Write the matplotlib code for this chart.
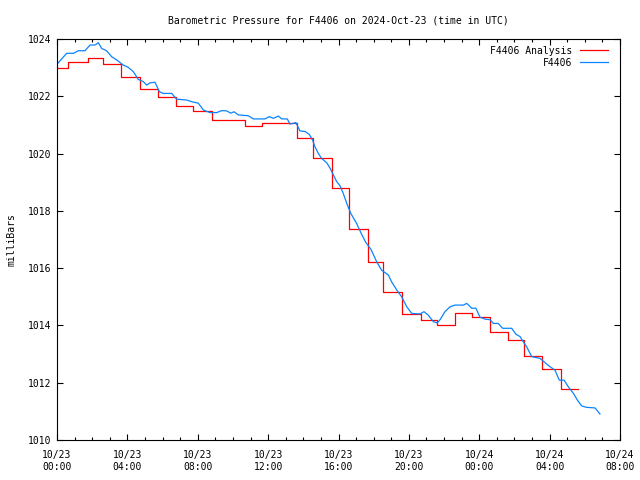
import matplotlib
matplotlib.use("Agg")
import matplotlib.pyplot as plt
from matplotlib.ticker import MultipleLocator

# Hours since 2024-10-23 00:00 UTC
analysis_t = [0, 0.64, 1.78, 2.63, 3.64, 4.72, 5.76, 6.76, 7.75, 8.79, 10.69, 11.63,
              13.62, 14.57, 15.61, 16.6, 17.65, 18.55, 19.59, 20.69, 21.58, 22.62,
              23.59, 24.63, 25.65, 26.54, 27.55, 28.63, 29.6]
analysis_p = [1023.0, 1023.2, 1023.33, 1023.12, 1022.66, 1022.24, 1021.96, 1021.65,
              1021.49, 1021.17, 1020.95, 1021.06, 1020.53, 1019.83, 1018.79, 1017.37,
              1016.22, 1015.16, 1014.39, 1014.18, 1014.0, 1014.42, 1014.28, 1013.76,
              1013.48, 1012.92, 1012.47, 1011.77, 1011.77]

obs_t = [0, 0.55, 0.93, 1.21, 1.59, 1.88, 2.16, 2.35, 2.54, 2.82, 3.11, 3.39, 3.77,
         4.05, 4.34, 4.62, 4.91, 5.1, 5.29, 5.57, 5.82, 6.04, 6.52, 6.8, 7.37, 7.66,
         8.03, 8.32, 8.7, 9.08, 9.36, 9.65, 9.87, 10.06, 10.31, 10.87, 11.16, 11.82,
         12.07, 12.3, 12.58, 12.77, 13.09, 13.24, 13.58, 13.81, 14.1, 14.34, 14.53,
         14.66, 14.85, 15.04, 15.33, 15.52, 15.71, 15.9, 16.09, 16.27, 16.47, 16.7,
         17.03, 17.3, 17.55, 17.85, 18.17, 18.45, 18.83, 19.02, 19.31, 19.59, 19.88,
         20.16, 20.63, 20.86, 21.1, 21.39, 21.62, 21.77, 22.05, 22.34, 22.62, 23.1,
         23.29, 23.57, 23.81, 24.04, 24.33, 24.61, 24.8, 25.08, 25.33, 25.84, 26.09,
         26.32, 26.5, 26.69, 26.98, 27.45, 27.74, 28.02, 28.3, 28.55, 28.82, 29.06,
         29.35, 29.57, 29.82, 30.1, 30.58, 30.86]
obs_p = [1023.12, 1023.5, 1023.5, 1023.59, 1023.59, 1023.79, 1023.79, 1023.87, 1023.67,
         1023.59, 1023.38, 1023.27, 1023.09, 1023.01, 1022.86, 1022.59, 1022.51,
         1022.39, 1022.47, 1022.49, 1022.16, 1022.1, 1022.1, 1021.9, 1021.87, 1021.81,
         1021.76, 1021.52, 1021.43, 1021.43, 1021.5, 1021.49, 1021.41, 1021.46,
         1021.35, 1021.32, 1021.21, 1021.21, 1021.29, 1021.23, 1021.31, 1021.21,
         1021.21, 1021.03, 1021.08, 1020.79, 1020.77, 1020.67, 1020.47, 1020.24,
         1020.01, 1019.83, 1019.68, 1019.49, 1019.25, 1019.02, 1018.87, 1018.61,
         1018.26, 1017.91, 1017.56, 1017.2, 1016.9, 1016.65, 1016.22, 1015.93,
         1015.76, 1015.52, 1015.24, 1015.0, 1014.65, 1014.42, 1014.4, 1014.48,
         1014.36, 1014.13, 1014.09, 1014.2, 1014.48, 1014.65, 1014.71, 1014.71,
         1014.77, 1014.6, 1014.6, 1014.29, 1014.22, 1014.2, 1014.07, 1014.07,
         1013.9, 1013.9, 1013.69, 1013.61, 1013.43, 1013.26, 1012.91, 1012.85,
         1012.7, 1012.56, 1012.44, 1012.09, 1012.09, 1011.86, 1011.63, 1011.4,
         1011.19, 1011.14, 1011.12, 1010.91]

xtick_pos = [0, 4, 8, 12, 16, 20, 24, 28, 32]
xtick_labels = ["10/23\n00:00", "10/23\n04:00", "10/23\n08:00", "10/23\n12:00",
                "10/23\n16:00", "10/23\n20:00", "10/24\n00:00", "10/24\n04:00",
                "10/24\n08:00"]
ytick_pos = [1010, 1012, 1014, 1016, 1018, 1020, 1022, 1024]

plt.rcParams['font.family'] = ['DejaVu Sans Mono']
plt.rcParams['font.size'] = 7

fig = plt.figure(figsize=(6.4, 4.8), dpi=100)
ax = fig.add_axes([57/640, 40/480, 563/640, 401/480])

ax.plot(analysis_t, analysis_p, color='#ff0000', lw=0.9, drawstyle='steps-post',
        label='F4406 Analysis')
ax.plot(obs_t, obs_p, color='#0a84ff', lw=0.9, label='F4406')

ax.set_xlim(0, 32)
ax.set_ylim(1010, 1024)
ax.set_xticks(xtick_pos)
ax.set_xticklabels(xtick_labels, linespacing=1.25)
ax.set_yticks(ytick_pos)
ax.xaxis.set_minor_locator(MultipleLocator(1))
ax.tick_params(which='both', direction='in', top=True, right=True, width=0.8)
ax.tick_params(which='major', length=4.5)
ax.tick_params(axis='x', which='major', pad=7)
ax.tick_params(axis='y', which='major', pad=4)
ax.tick_params(which='minor', length=2)
for s in ax.spines.values():
    s.set_linewidth(0.8)

ax.set_title("Barometric Pressure for F4406 on 2024-Oct-23 (time in UTC)",
             fontsize=7, pad=11)
ax.set_ylabel("milliBars", labelpad=8)

ax.legend(loc='upper right', bbox_to_anchor=(1 - 5/563, 1), frameon=False,
          markerfirst=False, handlelength=2.9, borderaxespad=0.3,
          labelspacing=0.2, handletextpad=0.8)

fig.savefig("out.png", dpi=100)
